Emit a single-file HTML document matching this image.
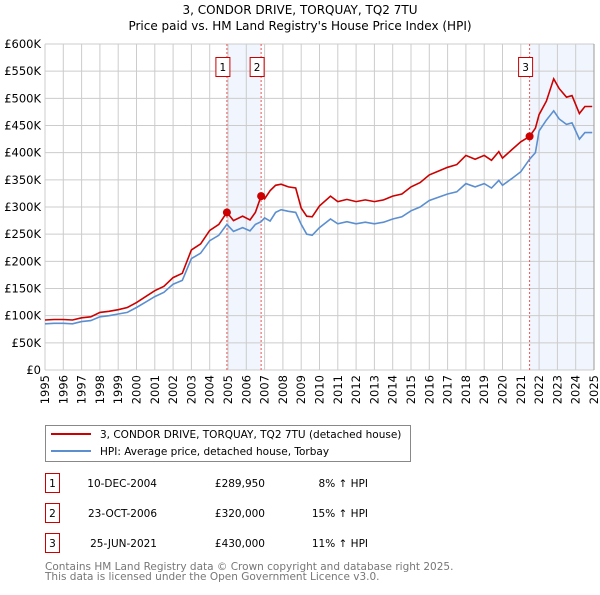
<!DOCTYPE html>
<html><head><meta charset="utf-8">
<style>
body{margin:0;background:#fff;font-family:"Liberation Sans","DejaVu Sans",sans-serif;}
svg text{font-family:"DejaVu Sans","Liberation Sans",sans-serif;}
</style></head>
<body>
<svg id="c" width="600" height="590" xmlns="http://www.w3.org/2000/svg">
<text x="300" y="14" text-anchor="middle" font-size="12">3, CONDOR DRIVE, TORQUAY, TQ2 7TU</text>
<text x="300" y="30" text-anchor="middle" font-size="12">Price paid vs. HM Land Registry's House Price Index (HPI)</text>
<g id="grid"></g><g id="plot"></g>
<g>
<rect x="45.5" y="425.5" width="365" height="36" fill="#fff" stroke="#888"/>
<line x1="51" y1="434" x2="91" y2="434" stroke="#cc0000" stroke-width="2"/>
<text x="100" y="438" font-size="10.5">3, CONDOR DRIVE, TORQUAY, TQ2 7TU (detached house)</text>
<line x1="51" y1="451" x2="91" y2="451" stroke="#5b8fd0" stroke-width="2"/>
<text x="100" y="455" font-size="10.5">HPI: Average price, detached house, Torbay</text>
</g>
<g id="table" font-size="10.5"></g>
<text x="45" y="570" font-size="10.5" fill="#777">Contains HM Land Registry data © Crown copyright and database right 2025.</text>
<text x="45" y="580" font-size="10.5" fill="#777">This data is licensed under the Open Government Licence v3.0.</text>
</svg>
<script>
const years=[1995,1995.5,1996,1996.5,1997,1997.5,1998,1998.5,1999,1999.5,2000,2000.5,2001,2001.5,2002,2002.5,2003,2003.5,2004,2004.5,2004.94,2005.3,2005.8,2006.2,2006.5,2006.81,2007,2007.3,2007.6,2007.9,2008.3,2008.7,2009.0,2009.3,2009.6,2010,2010.6,2011,2011.5,2012,2012.5,2013,2013.5,2014,2014.5,2015,2015.5,2016,2016.5,2017,2017.5,2018,2018.5,2019,2019.4,2019.8,2020,2020.5,2021,2021.48,2021.8,2022,2022.4,2022.8,2023.1,2023.5,2023.8,2024.2,2024.5,2024.9];
const hpi=[85,86,86,85,89,91,98,100,103,106,115,125,135,143,158,165,205,215,238,248,268,255,262,256,268,273,280,274,290,295,292,290,268,250,248,262,278,269,273,269,272,269,272,278,282,293,300,312,318,324,328,343,337,343,335,349,340,352,365,388,400,440,460,477,462,452,455,425,437,437];
const paid=[92,93,93,92,96,98,106,108,111,115,124,135,146,154,170,178,221,232,257,268,290,275,283,276,290,320,315,330,340,342,337,335,298,283,282,302,320,310,314,310,313,310,313,320,324,337,345,359,366,373,378,395,388,395,386,402,390,405,420,430,445,470,495,536,518,502,505,472,485,485];
const sales=[{n:"1",x:2004.94,y:289950,d:"10-DEC-2004",p:"£289,950",h:"8% ↑ HPI"},{n:"2",x:2006.81,y:320000,d:"23-OCT-2006",p:"£320,000",h:"15% ↑ HPI"},{n:"3",x:2021.48,y:430000,d:"25-JUN-2021",p:"£430,000",h:"11% ↑ HPI"}];
const yTicks=[0,50,100,150,200,250,300,350,400,450,500,550,600];
const xTicks=[1995,1996,1997,1998,1999,2000,2001,2002,2003,2004,2005,2006,2007,2008,2009,2010,2011,2012,2013,2014,2015,2016,2017,2018,2019,2020,2021,2022,2023,2024,2025];
const X=v=>45+(v-1995)*(594-45)/30, Y=k=>370-k*326/600;
const NS="http://www.w3.org/2000/svg";
function mk(t,a,p){const e=document.createElementNS(NS,t);for(const k in a)e.setAttribute(k,a[k]);p.appendChild(e);return e;}
const g=document.getElementById('grid'),pl=document.getElementById('plot');
let s1=mk('rect',{x:X(sales[0].x),y:44,width:X(sales[1].x)-X(sales[0].x),height:326,fill:'#f1f5fd'},g);


let s2=mk('rect',{x:X(sales[2].x),y:44,width:X(2025)-X(sales[2].x),height:326,fill:'#f1f5fd'},g);


yTicks.forEach(k=>{mk('line',{x1:45,x2:594,y1:Y(k),y2:Y(k),stroke:'#ccc'},g);
 const t=mk('text',{x:41,y:Y(k)+4,'text-anchor':'end','font-size':'11.5'},g);t.textContent=k?('£'+k+'K'):'£0';
 
 });
xTicks.forEach(v=>{mk('line',{x1:X(v),x2:X(v),y1:44,y2:370,stroke:v==2025?'#999':'#ccc'},g);
 const t=mk('text',{transform:`translate(${X(v)+4},375) rotate(-90)`,'text-anchor':'end','font-size':'11.5'},g);t.textContent=v;
 
 });
sales.forEach(s=>{const l=mk('line',{x1:X(s.x),x2:X(s.x),y1:44,y2:370,stroke:'#e55','stroke-dasharray':'2,2'},pl);
 
 });
function path(arr,col,name){const d=arr.map((v,i)=>(i?'L':'M')+X(years[i]).toFixed(1)+','+Y(v).toFixed(1)).join('');
 const e=mk('path',{d:d,fill:'none',stroke:col,'stroke-width':1.6},pl);
 
 }
path(hpi,'#5b8fd0','hpi-line');path(paid,'#cc0000','price-paid-line');
sales.forEach(s=>{const c=mk('circle',{cx:X(s.x),cy:Y(s.y/1000),r:4,fill:'#cc0000'},pl);
 
 
 const bx=X(s.x)-11;mk('rect',{x:bx,y:57.5,width:14,height:19,fill:'#fff',stroke:'#cc0000'},pl);
 const t=mk('text',{x:bx+7,y:71,'text-anchor':'middle','font-size':'10.5'},pl);t.textContent=s.n;
 
 });
const tb=document.getElementById('table');
sales.forEach((s,i)=>{const y=483+i*30;
 mk('rect',{x:45.5,y:y-9.5,width:14,height:19,fill:'#fff',stroke:'#cc0000'},tb);
 const a=mk('text',{x:52.5,y:y+4,'text-anchor':'middle'},tb);a.textContent=s.n;
 
 
 const b=mk('text',{x:157,y:y+4,'text-anchor':'end'},tb);b.textContent=s.d;
 
 
 const c=mk('text',{x:265,y:y+4,'text-anchor':'end'},tb);c.textContent=s.p;
 
 
 const d=mk('text',{x:368,y:y+4,'text-anchor':'end'},tb);d.textContent=s.h;
 
 });
</script>
</body></html>
